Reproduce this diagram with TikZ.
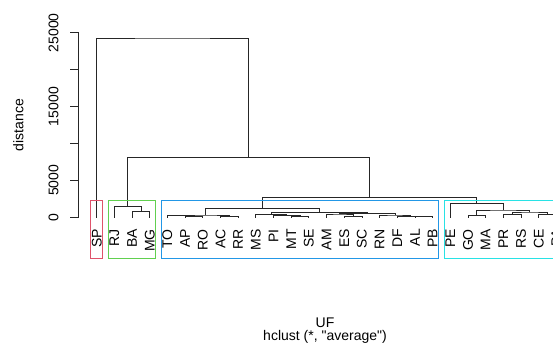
\documentclass[tikz,border=0pt]{standalone}
\usepackage{fontspec}
\setmainfont{Liberation Sans}[Ligatures=TeXOff]
\definecolor{rred}{HTML}{DF536B}
\definecolor{rgreen}{HTML}{61D04F}
\definecolor{rblue}{HTML}{2297E6}
\definecolor{rcyan}{HTML}{28E2E5}
\begin{document}
\begin{tikzpicture}[x=1pt,y=-1pt,
  dend/.style={line width=0.8pt,black!85,line cap=rect},
  axisline/.style={line width=0.8pt,black!85},
  leaflab/.style={rotate=90,anchor=east,inner sep=0pt,font=\fontsize{14}{16}\selectfont},
  ticklab/.style={rotate=90,anchor=center,inner sep=0pt,font=\fontsize{14}{16}\selectfont},
  plaintext/.style={inner sep=0pt,font=\fontsize{14}{16}\selectfont},
  clbox/.style={line width=0.8pt}]
\useasboundingbox (0,0) rectangle (553,350);
\clip (0,0) rectangle (553,350);
% axis
\draw[axisline] (78.7,217.3) -- (78.7,32.7);
\foreach \yy in {217.3,180.4,143.5,106.6,69.6,32.7}
  \draw[axisline] (70,\yy) -- (78.7,\yy);
\node[ticklab] (t0) at (53.5,217.3) {0};
\node[ticklab] (t5) at (53.5,180.4) {5000};
\node[ticklab] (t15) at (53.5,106.6) {15000};
\node[ticklab] (t25) at (53.5,32.7) {25000};
\node[ticklab] (ylab) at (18.3,125) {distance};
% leaves
\foreach \n [count=\i from 0] in {SP,RJ,BA,MG,TO,AP,RO,AC,RR,MS,PI,MT,SE,AM,ES,SC,RN,DF,AL,PB,PE,GO,MA,PR,RS,CE,PA}{
  \pgfmathsetmacro\xx{96.7+17.68*\i}
  \coordinate (\n) at (\xx,217.3);
  \node[leaflab] (t\n) at (\xx,229) {\n};
}
% merges
\coordinate (mBM) at (140.90,211.7);
\coordinate (mRBM) at (127.64,206.7);
\coordinate (mAR) at (193.94,216.5);
\coordinate (mTAR) at (180.68,215.8);
\coordinate (mACRR) at (229.30,216.3);
\coordinate (mD) at (204.99,215.0);
\coordinate (mMS) at (300.02,216.5);
\coordinate (mPMS) at (286.76,215.7);
\coordinate (mE1) at (271.29,214.7);
\coordinate (mES) at (353.06,216.3);
\coordinate (mAES) at (339.80,214.0);
\coordinate (mAP) at (423.78,216.8);
\coordinate (mDAP) at (410.52,216.2);
\coordinate (mRDAP) at (395.05,215.0);
\coordinate (mE2) at (367.43,213.3);
\coordinate (mE) at (319.36,212.2);
\coordinate (mC) at (262.18,208.7);
\coordinate (mGM) at (476.82,215.7);
\coordinate (mPRS) at (512.18,214.3);
\coordinate (mCP) at (547.54,214.8);
\coordinate (mH) at (529.86,212.0);
\coordinate (mG) at (503.34,210.0);
\coordinate (mF) at (476.82,203.3);
\coordinate (mB) at (369.50,197.7);
\coordinate (mA) at (248.57,157.7);
\coordinate (mR) at (172.64,38.0);
\draw[dend] (BA) |- (mBM) -| (MG);
\draw[dend] (RJ) |- (mRBM) -| (mBM);
\draw[dend] (AP) |- (mAR) -| (RO);
\draw[dend] (TO) |- (mTAR) -| (mAR);
\draw[dend] (AC) |- (mACRR) -| (RR);
\draw[dend] (mTAR) |- (mD) -| (mACRR);
\draw[dend] (MT) |- (mMS) -| (SE);
\draw[dend] (PI) |- (mPMS) -| (mMS);
\draw[dend] (MS) |- (mE1) -| (mPMS);
\draw[dend] (ES) |- (mES) -| (SC);
\draw[dend] (AM) |- (mAES) -| (mES);
\draw[dend] (AL) |- (mAP) -| (PB);
\draw[dend] (DF) |- (mDAP) -| (mAP);
\draw[dend] (RN) |- (mRDAP) -| (mDAP);
\draw[dend] (mAES) |- (mE2) -| (mRDAP);
\draw[dend] (mE1) |- (mE) -| (mE2);
\draw[dend] (mD) |- (mC) -| (mE);
\draw[dend] (GO) |- (mGM) -| (MA);
\draw[dend] (PR) |- (mPRS) -| (RS);
\draw[dend] (CE) |- (mCP) -| (PA);
\draw[dend] (mPRS) |- (mH) -| (mCP);
\draw[dend] (mGM) |- (mG) -| (mH);
\draw[dend] (PE) |- (mF) -| (mG);
\draw[dend] (mC) |- (mB) -| (mF);
\draw[dend] (mRBM) |- (mA) -| (mB);
\draw[dend] (SP) |- (mR) -| (mA);
% cluster boxes
\draw[clbox,rred] (90.7,200.5) rectangle (102.5,258.3);
\draw[clbox,rgreen] (108.4,200.5) rectangle (155.5,258.3);
\draw[clbox,rblue] (161.4,200.5) rectangle (438.4,258.3);
\draw[clbox,rcyan] (444.3,200.5) rectangle (580,258.3);
% titles
\node[plaintext,anchor=base] (xlab) at (325,327) {UF};
\node[plaintext,anchor=base] (sub) at (325,340.5) {hclust (*, "average")};
\end{tikzpicture}
\end{document}
